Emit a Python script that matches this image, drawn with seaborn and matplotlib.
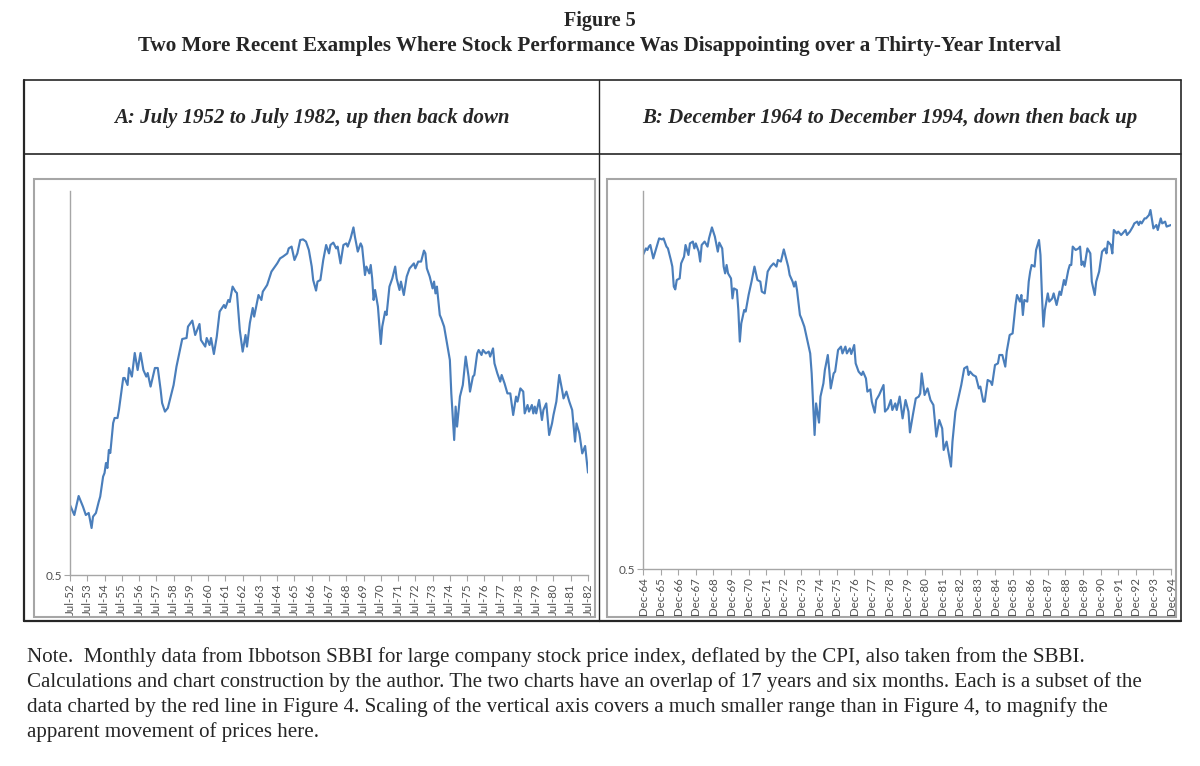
import matplotlib
matplotlib.use("Agg")
import matplotlib.pyplot as plt
import seaborn as sns
import pandas as pd
from matplotlib.lines import Line2D
from matplotlib.patches import Rectangle

# ---------------- data (months since start, real index value) ----------------
a_month = [0, 3, 6, 9, 11, 13, 15, 16, 18, 20, 21, 23, 24, 25, 26, 27, 28, 30, 31, 33, 34, 37, 38, 40, 41, 43,
           45, 47, 49, 51, 53, 54, 56, 59, 61, 63, 64, 66, 68, 70, 72, 74, 76, 78, 81, 82, 85, 87, 90, 91, 94,
           95, 97, 98, 100, 102, 104, 107, 108, 110, 111, 113, 115, 116, 118, 120, 122, 123, 125, 127, 128, 131,
           133, 134, 137, 140, 144, 146, 148, 151, 152, 154, 156, 158, 160, 162, 164, 166, 168, 169, 171, 172,
           174, 176, 178, 180, 181, 183, 185, 186, 188, 190, 192, 193, 195, 197, 198, 200, 202, 203, 205, 206,
           208, 209, 210, 211, 212, 214, 216, 217, 219, 220, 222, 224, 226, 227, 229, 230, 232, 234, 236, 239,
           240, 242, 244, 246, 247, 248, 250, 252, 253, 254, 255, 257, 258, 260, 262, 264, 265, 267, 268, 269,
           271, 273, 275, 277, 278, 280, 281, 283, 284, 286, 287, 289, 291, 292, 294, 295, 297, 299, 300, 302,
           304, 306, 308, 310, 311, 313, 315, 316, 318, 319, 321, 322, 323, 324, 326, 328, 329, 331, 333, 335,
           336, 338, 340, 342, 343, 345, 347, 349, 351, 352, 354, 356, 358, 360]
a_value = [0.85, 0.80, 0.895, 0.842, 0.80, 0.81, 0.735, 0.792, 0.81, 0.867, 0.892, 0.992, 1.01, 1.06, 1.035,
           1.125, 1.11, 1.26, 1.285, 1.285, 1.325, 1.485, 1.485, 1.45, 1.535, 1.492, 1.61, 1.525, 1.61, 1.525,
           1.492, 1.51, 1.442, 1.535, 1.535, 1.425, 1.36, 1.317, 1.335, 1.392, 1.45, 1.542, 1.61, 1.68, 1.685,
           1.742, 1.772, 1.70, 1.755, 1.675, 1.642, 1.685, 1.65, 1.685, 1.605, 1.692, 1.817, 1.85, 1.835, 1.875,
           1.865, 1.942, 1.917, 1.91, 1.725, 1.617, 1.70, 1.642, 1.76, 1.835, 1.792, 1.90, 1.875, 1.917, 1.95,
           2.017, 2.058, 2.083, 2.092, 2.108, 2.133, 2.142, 2.075, 2.108, 2.175, 2.178, 2.167, 2.125, 2.042,
           1.975, 1.922, 1.967, 1.975, 2.075, 2.15, 2.108, 2.15, 2.162, 2.133, 2.142, 2.058, 2.15, 2.158, 2.142,
           2.183, 2.238, 2.192, 2.117, 2.158, 2.142, 2.00, 2.042, 2.008, 2.05, 1.983, 1.875, 1.925, 1.842, 1.655,
           1.742, 1.817, 1.80, 1.942, 1.983, 2.042, 1.983, 1.925, 1.967, 1.90, 1.992, 2.033, 2.058, 2.033, 2.067,
           2.067, 2.122, 2.108, 2.033, 1.992, 1.933, 1.967, 1.908, 1.942, 1.80, 1.783, 1.742, 1.658, 1.575, 1.408,
           1.175, 1.342, 1.242, 1.392, 1.45, 1.592, 1.492, 1.417, 1.492, 1.50, 1.608, 1.625, 1.60, 1.625, 1.608,
           1.617, 1.592, 1.633, 1.558, 1.508, 1.467, 1.50, 1.458, 1.408, 1.408, 1.30, 1.392, 1.367, 1.433, 1.417,
           1.308, 1.35, 1.317, 1.35, 1.308, 1.342, 1.308, 1.375, 1.275, 1.325, 1.358, 1.20, 1.258, 1.30, 1.367,
           1.50, 1.425, 1.383, 1.417, 1.367, 1.325, 1.167, 1.258, 1.208, 1.108, 1.145, 1.012]

b_month = [0, 2, 3, 4, 5, 7, 8, 10, 11, 13, 14, 16, 17, 19, 20, 21, 22, 23, 25, 26, 28, 29, 31, 32, 34, 35, 36,
           38, 39, 40, 42, 44, 45, 47, 49, 51, 52, 54, 55, 56, 57, 58, 60, 61, 62, 64, 65, 66, 67, 69, 70, 72, 74,
           76, 78, 80, 81, 83, 85, 87, 89, 91, 92, 94, 96, 97, 99, 100, 102, 103, 104, 105, 107, 108, 110, 112,
           114, 115, 116, 117, 118, 120, 121, 123, 124, 126, 127, 128, 130, 131, 133, 135, 136, 138, 139, 141,
           142, 144, 145, 147, 149, 150, 152, 153, 155, 156, 158, 159, 161, 162, 164, 165, 167, 169, 170, 172,
           173, 175, 177, 179, 181, 182, 184, 186, 188, 189, 190, 192, 194, 196, 198, 200, 202, 204, 205, 207,
           209, 210, 211, 213, 215, 217, 219, 221, 222, 223, 225, 227, 229, 230, 232, 233, 235, 237, 238, 240,
           242, 243, 245, 247, 248, 250, 252, 254, 255, 257, 258, 259, 260, 262, 263, 264, 265, 267, 268, 270,
           271, 272, 273, 274, 276, 277, 279, 280, 282, 284, 285, 287, 288, 290, 291, 292, 293, 295, 297, 298,
           299, 300, 301, 303, 305, 306, 308, 309, 311, 313, 315, 316, 317, 319, 320, 321, 323, 324, 326, 327,
           329, 330, 332, 334, 335, 337, 338, 339, 340, 342, 343, 345, 346, 348, 350, 351, 353, 354, 356, 357, 360]
b_value = [2.07, 2.103, 2.095, 2.112, 2.12, 2.053, 2.078, 2.128, 2.153, 2.148, 2.153, 2.112, 2.103, 2.045, 2.012,
           1.912, 1.898, 1.945, 1.953, 2.028, 2.062, 2.12, 2.07, 2.128, 2.137, 2.103, 2.128, 2.087, 2.037, 2.12,
           2.137, 2.112, 2.153, 2.208, 2.162, 2.087, 2.132, 2.103, 2.012, 1.978, 2.02, 1.978, 1.953, 1.853, 1.903,
           1.895, 1.795, 1.637, 1.728, 1.795, 1.787, 1.87, 1.937, 2.012, 1.945, 1.937, 1.887, 1.878, 1.987, 2.012,
           2.028, 2.012, 2.045, 2.037, 2.098, 2.07, 2.012, 1.97, 1.937, 1.912, 1.937, 1.895, 1.77, 1.753, 1.712,
           1.645, 1.578, 1.478, 1.328, 1.17, 1.328, 1.232, 1.362, 1.428, 1.495, 1.57, 1.495, 1.403, 1.478, 1.487,
           1.595, 1.612, 1.578, 1.612, 1.578, 1.603, 1.575, 1.62, 1.528, 1.487, 1.47, 1.487, 1.453, 1.387, 1.398,
           1.337, 1.282, 1.345, 1.37, 1.387, 1.42, 1.287, 1.303, 1.345, 1.295, 1.328, 1.295, 1.362, 1.253, 1.345,
           1.287, 1.183, 1.27, 1.353, 1.362, 1.378, 1.478, 1.37, 1.403, 1.345, 1.32, 1.162, 1.245, 1.203, 1.095,
           1.137, 1.053, 1.012, 1.137, 1.287, 1.353, 1.42, 1.503, 1.512, 1.47, 1.487, 1.47, 1.462, 1.403, 1.412,
           1.337, 1.337, 1.445, 1.437, 1.42, 1.52, 1.528, 1.57, 1.57, 1.512, 1.587, 1.67, 1.678, 1.82, 1.87, 1.837,
           1.87, 1.77, 1.845, 1.837, 1.937, 1.987, 2.02, 2.012, 2.095, 2.145, 2.07, 1.87, 1.712, 1.795, 1.878,
           1.837, 1.853, 1.878, 1.82, 1.887, 1.87, 1.945, 1.92, 1.995, 2.02, 2.02, 2.112, 2.095, 2.103, 2.112,
           2.02, 2.037, 2.012, 2.103, 2.078, 1.937, 1.87, 1.937, 1.987, 2.087, 2.103, 2.078, 2.137, 2.12, 2.078,
           2.195, 2.178, 2.187, 2.17, 2.178, 2.195, 2.17, 2.187, 2.212, 2.228, 2.237, 2.22, 2.237, 2.228, 2.253,
           2.253, 2.27, 2.295, 2.203, 2.22, 2.195, 2.253, 2.228, 2.237, 2.212, 2.22]

a_ticklabels = ["Jul-52", "Jul-53", "Jul-54", "Jul-55", "Jul-56", "Jul-57", "Jul-58", "Jul-59", "Jul-60",
                "Jul-61", "Jul-62", "Jul-63", "Jul-64", "Jul-65", "Jul-66", "Jul-67", "Jul-68", "Jul-69",
                "Jul-70", "Jul-71", "Jul-72", "Jul-73", "Jul-74", "Jul-75", "Jul-76", "Jul-77", "Jul-78",
                "Jul-79", "Jul-80", "Jul-81", "Jul-82"]
b_ticklabels = ["Dec-64", "Dec-65", "Dec-66", "Dec-67", "Dec-68", "Dec-69", "Dec-70", "Dec-71", "Dec-72",
                "Dec-73", "Dec-74", "Dec-75", "Dec-76", "Dec-77", "Dec-78", "Dec-79", "Dec-80", "Dec-81",
                "Dec-82", "Dec-83", "Dec-84", "Dec-85", "Dec-86", "Dec-87", "Dec-88", "Dec-89", "Dec-90",
                "Dec-91", "Dec-92", "Dec-93", "Dec-94"]
tick_months = list(range(0, 361, 12))

title = "Figure 5"
subtitle = "Two More Recent Examples Where Stock Performance Was Disappointing over a Thirty-Year Interval"
panel_a = "A: July 1952 to July 1982, up then back down"
panel_b = "B: December 1964 to December 1994, down then back up"
note_lines = [
    "Note.  Monthly data from Ibbotson SBBI for large company stock price index, deflated by the CPI, also taken from the SBBI.",
    "Calculations and chart construction by the author. The two charts have an overlap of 17 years and six months. Each is a subset of the",
    "data charted by the red line in Figure 4. Scaling of the vertical axis covers a much smaller range than in Figure 4, to magnify the",
    "apparent movement of prices here.",
]

# ---------------- styling ----------------
sns.set_style("white")
plt.rcParams["font.family"] = ["Liberation Serif", "DejaVu Serif"]

W, H = 1200, 766
fig = plt.figure(figsize=(W / 100, H / 100), dpi=100)
fig.patch.set_facecolor("white")


def fx(x):
    return x / W


def fy(y):
    return 1 - y / H


def hline(x0, x1, y, color, lw):
    fig.add_artist(Line2D([fx(x0), fx(x1)], [fy(y), fy(y)], transform=fig.transFigure, color=color, lw=lw))


def vline(x, y0, y1, color, lw):
    fig.add_artist(Line2D([fx(x), fx(x)], [fy(y0), fy(y1)], transform=fig.transFigure, color=color, lw=lw))


# table frame
tcol = "#262626"
hline(24, 1181, 80, tcol, 1.2)
hline(24, 1181, 154, tcol, 1.2)
hline(24, 1181, 621, tcol, 1.6)
vline(24, 80, 621, tcol, 1.6)
vline(1181, 80, 621, tcol, 1.2)
vline(599, 80, 621, tcol, 1.0)

# chart panel borders
for (x0, y0, x1, y1) in [(34, 179, 595, 617), (607, 179, 1176, 617)]:
    fig.add_artist(Rectangle((fx(x0), fy(y1)), fx(x1) - fx(x0), fy(y0) - fy(y1),
                             transform=fig.transFigure, fill=False, edgecolor="#A6A6A6", lw=1.5))

# texts
fig.text(0.5, fy(21), title, ha="center", va="center", fontsize=14.5, fontweight="bold")
fig.text(0.5, fy(46.5), subtitle, ha="center", va="center", fontsize=15.2, fontweight="bold")
fig.text(fx(312), fy(118), panel_a, ha="center", va="center", fontsize=15, fontweight="bold", style="italic")
fig.text(fx(890), fy(118), panel_b, ha="center", va="center", fontsize=15, fontweight="bold", style="italic")
for i, line in enumerate(note_lines):
    fig.text(fx(27), fy(657 + i * 25), line, ha="left", va="center", fontsize=15.1)

line_color = "#4A7EBB"
axis_color = "#A6A6A6"
label_color = "#505050"
tick_font = ["Lato", "DejaVu Sans"]

panels = [
    (a_month, a_value, a_ticklabels, (70, 575, 588, 191), 2.42),
    (b_month, b_value, b_ticklabels, (643, 569, 1171, 191), 2.39),
]
for months, values, labels, (x0, ybot, x1, ytop), ymax in panels:
    ax = fig.add_axes([fx(x0), fy(ybot), fx(x1) - fx(x0), fy(ytop) - fy(ybot)])
    df = pd.DataFrame({"month": months, "value": values})
    sns.lineplot(data=df, x="month", y="value", ax=ax, color=line_color, linewidth=1.55)
    ax.set_xlim(0, 360)
    ax.set_ylim(0.5, ymax)
    ax.set_xlabel("")
    ax.set_ylabel("")
    ax.patch.set_alpha(0)
    for s in ["top", "right"]:
        ax.spines[s].set_visible(False)
    for s in ["left", "bottom"]:
        ax.spines[s].set_color(axis_color)
        ax.spines[s].set_linewidth(1.0)
    ax.set_xticks(tick_months)
    ax.set_xticklabels(labels, rotation=90, fontsize=8.3, color=label_color, family=tick_font)
    ax.set_yticks([0.5])
    ax.set_yticklabels(["0.5"], fontsize=8.5, color=label_color, family=tick_font)
    ax.tick_params(axis="both", direction="out", length=4, width=0.8, color=axis_color, pad=2,
                   bottom=True, left=True)

fig.savefig("out.png", dpi=100)
